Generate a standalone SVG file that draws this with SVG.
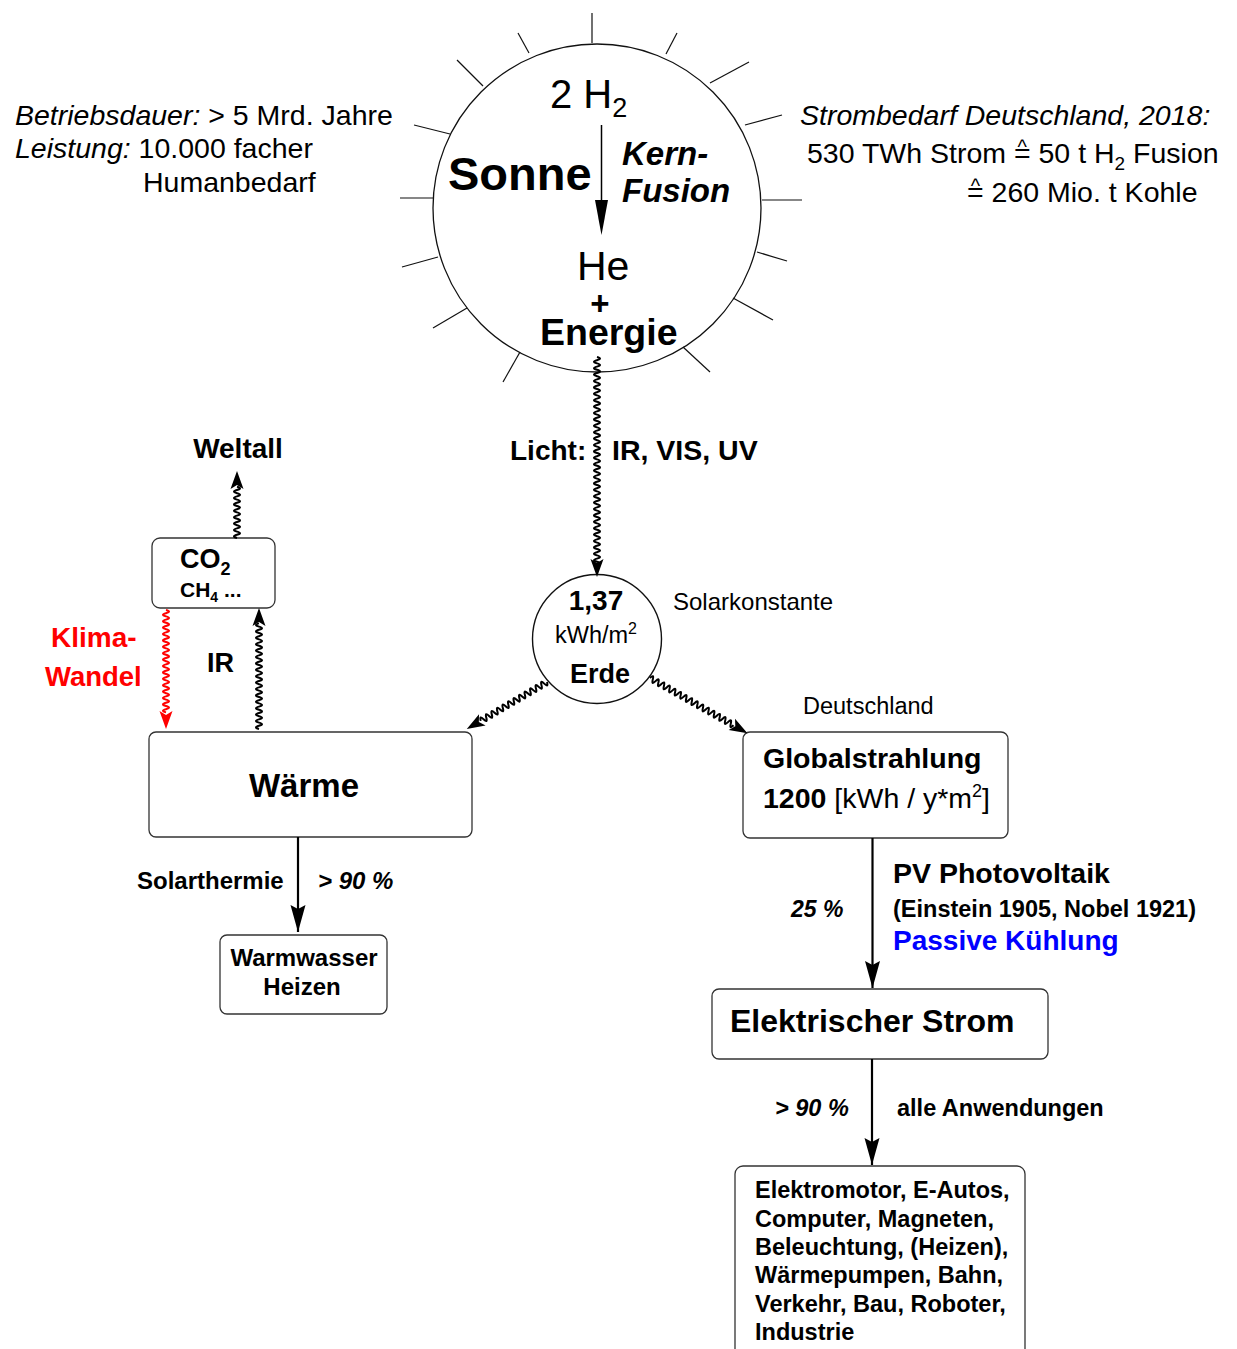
<svg xmlns="http://www.w3.org/2000/svg" width="1237" height="1349" viewBox="0 0 1237 1349">
<style>
text{font-family:"Liberation Sans",Arial,"DejaVu Sans",sans-serif;fill:#000}
.b{font-weight:bold}
.i{font-style:italic}
.box{fill:#fff;stroke:#333;stroke-width:1.3}
.ray{stroke:#111;stroke-width:1.2}
.wave{fill:none;stroke:#000;stroke-width:2}
.wr{fill:none;stroke:#ff0000;stroke-width:2}
.arr{stroke:#000;stroke-width:2.2;fill:none;marker-end:url(#ah)}
</style>
<defs>
<marker id="ah" markerUnits="userSpaceOnUse" viewBox="-28 -8 30 16" refX="0" refY="0" markerWidth="30" markerHeight="16" orient="auto">
<path d="M0,0 L-27,-7.5 L-23,0 L-27,7.5 z" fill="#000"/>
</marker>
</defs>
<rect width="1237" height="1349" fill="#fff"/>

<g id="sonne">
<circle cx="597" cy="208" r="164" fill="#fff" stroke="#111" stroke-width="1.3"/>
<line class="ray" x1="592" y1="13" x2="592" y2="43"/>
<line class="ray" x1="518" y1="33" x2="529" y2="53"/>
<line class="ray" x1="677" y1="33" x2="666" y2="54"/>
<line class="ray" x1="457" y1="60" x2="483" y2="86"/>
<line class="ray" x1="749" y1="62" x2="710" y2="83"/>
<line class="ray" x1="414" y1="125" x2="450" y2="134"/>
<line class="ray" x1="782" y1="115" x2="745" y2="125"/>
<line class="ray" x1="400" y1="198" x2="433" y2="198"/>
<line class="ray" x1="762" y1="200" x2="802" y2="200"/>
<line class="ray" x1="402" y1="267" x2="438" y2="257"/>
<line class="ray" x1="757" y1="252" x2="787" y2="261"/>
<line class="ray" x1="433" y1="328" x2="467" y2="308"/>
<line class="ray" x1="733" y1="298" x2="773" y2="320"/>
<line class="ray" x1="503" y1="382" x2="520" y2="352"/>
<line class="ray" x1="683" y1="347" x2="710" y2="372"/>
<text x="550" y="108" font-size="40">2 H<tspan font-size="27" dy="9">2</tspan></text>
<line x1="601.5" y1="125" x2="601.5" y2="205" stroke="#000" stroke-width="1.5"/>
<polygon points="595,200 608,200 601.5,235" fill="#000"/>
<text class="b" x="448" y="190" font-size="47">Sonne</text>
<text class="b i" x="622" y="165" font-size="33">Kern-</text>
<text class="b i" x="622" y="202" font-size="33">Fusion</text>
<text x="577" y="280" font-size="41">He</text>
<text class="b" x="600" y="315" font-size="33" text-anchor="middle">+</text>
<text class="b" x="540" y="345" font-size="37.5">Energie</text>
</g>

<g id="info-links">
<text x="15" y="125" font-size="28.5"><tspan class="i">Betriebsdauer:</tspan> &gt; 5 Mrd. Jahre</text>
<text x="15" y="158" font-size="28.5"><tspan class="i">Leistung:</tspan> 10.000 facher</text>
<text x="143" y="192" font-size="28.5">Humanbedarf</text>
</g>

<g id="info-rechts">
<text class="i" x="800" y="125" font-size="28.5">Strombedarf Deutschland, 2018:</text>
<text x="807" y="163" font-size="28.5">530 TWh Strom =<tspan font-size="20" dx="-13" dy="-9.5">^</tspan><tspan dx="3.6" dy="9.5"> 50 t H</tspan><tspan font-size="19" dy="7">2</tspan><tspan dy="-7"> Fusion</tspan></text>
<text x="967" y="202" font-size="28.5">=<tspan font-size="20" dx="-13" dy="-9.5">^</tspan><tspan dx="3.6" dy="9.5"> 260 Mio. t Kohle</tspan></text>
</g>

<g id="erde">
<circle cx="597" cy="639" r="64.5" fill="#fff" stroke="#111" stroke-width="1.4"/>
<text class="b" x="596" y="610" font-size="28" text-anchor="middle">1,37</text>
<text x="596" y="643" font-size="23.5" text-anchor="middle">kWh/m<tspan font-size="16" dy="-9">2</tspan></text>
<text class="b" x="600" y="683" font-size="27" text-anchor="middle">Erde</text>
</g>
<text x="673" y="610" font-size="24">Solarkonstante</text>

<g id="co2">
<rect class="box" x="152" y="538" width="123" height="70" rx="8"/>
<text class="b" x="180" y="568" font-size="27">CO<tspan font-size="18" dy="7">2</tspan></text>
<text class="b" x="180" y="597" font-size="21">CH<tspan font-size="14" dy="5">4</tspan><tspan dy="-5"> ...</tspan></text>
</g>
<text class="b" x="238" y="458" font-size="28" text-anchor="middle">Weltall</text>
<text class="b" x="207" y="672" font-size="27">IR</text>
<text class="b" x="51" y="647" font-size="28" style="fill:#ff0000">Klima-</text>
<text class="b" x="45" y="686" font-size="27.5" style="fill:#ff0000">Wandel</text>
<text class="b" x="510" y="460" font-size="28">Licht:</text>
<text class="b" x="612" y="460" font-size="28.5">IR, VIS, UV</text>

<g id="waerme">
<rect class="box" x="149" y="732" width="323" height="105" rx="7"/>
<text class="b" x="304" y="797" font-size="33" text-anchor="middle">Wärme</text>
</g>

<g id="globalstrahlung">
<rect class="box" x="743" y="732" width="265" height="106" rx="7"/>
<text class="b" x="763" y="768" font-size="28.5">Globalstrahlung</text>
<text x="763" y="808" font-size="28.5"><tspan class="b">1200</tspan> [kWh / y*m<tspan font-size="18" dy="-11">2</tspan><tspan dy="11">]</tspan></text>
</g>
<text x="803" y="714" font-size="23.5">Deutschland</text>

<g id="warmwasser">
<rect class="box" x="220" y="935" width="167" height="79" rx="7"/>
<text class="b" x="304" y="966" font-size="24" text-anchor="middle">Warmwasser</text>
<text class="b" x="302" y="995" font-size="24" text-anchor="middle">Heizen</text>
</g>
<text class="b" x="137" y="889" font-size="24">Solarthermie</text>
<text class="b i" x="318" y="889" font-size="24">&gt; 90 %</text>

<text class="b" x="893" y="883" font-size="28.5">PV Photovoltaik</text>
<text class="b" x="893" y="917" font-size="23.5">(Einstein 1905, Nobel 1921)</text>
<text class="b" x="893" y="950" font-size="28" style="fill:#0000ff">Passive Kühlung</text>
<text class="b i" x="791" y="917" font-size="23">25 %</text>

<g id="strom">
<rect class="box" x="712" y="989" width="336" height="70" rx="7"/>
<text class="b" x="730" y="1032" font-size="32">Elektrischer Strom</text>
</g>
<text class="b i" x="775" y="1116" font-size="23.5">&gt; 90 %</text>
<text class="b" x="897" y="1116" font-size="23.5">alle Anwendungen</text>

<g id="anwendungen">
<rect class="box" x="735" y="1166" width="290" height="260" rx="8"/>
<text class="b" x="755" y="1198" font-size="23.5">Elektromotor, E-Autos,</text>
<text class="b" x="755" y="1227" font-size="23.5">Computer, Magneten,</text>
<text class="b" x="755" y="1255" font-size="23.5">Beleuchtung, (Heizen),</text>
<text class="b" x="755" y="1283" font-size="23.5">Wärmepumpen, Bahn,</text>
<text class="b" x="755" y="1312" font-size="23.5">Verkehr, Bau, Roboter,</text>
<text class="b" x="755" y="1340" font-size="23.5">Industrie</text>
</g>

<g id="connectors">
<g transform="translate(597,357)">
<path class="wave" d="M0,0 q6,1.6 0,3.2 t0,3.2 0,3.2 0,3.2 0,3.2 0,3.2 0,3.2 0,3.2 0,3.2 0,3.2 0,3.2 0,3.2 0,3.2 0,3.2 0,3.2 0,3.2 0,3.2 0,3.2 0,3.2 0,3.2 0,3.2 0,3.2 0,3.2 0,3.2 0,3.2 0,3.2 0,3.2 0,3.2 0,3.2 0,3.2 0,3.2 0,3.2 0,3.2 0,3.2 0,3.2 0,3.2 0,3.2 0,3.2 0,3.2 0,3.2 0,3.2 0,3.2 0,3.2 0,3.2 0,3.2 0,3.2 0,3.2 0,3.2 0,3.2 0,3.2 0,3.2 0,3.2 0,3.2 0,3.2 0,3.2 0,3.2 0,3.2 0,3.2 0,3.2 0,3.2 0,3.2 0,3.2 0,3.2 0,3.2 0,3.2"/>
<polygon points="0,220 -6.5,202 0,206 6.5,202" fill="#000"/>
</g>
<g transform="translate(547,682) rotate(59.6)">
<path class="wave" d="M0,0 q6,1.6 0,3.2 t0,3.2 0,3.2 0,3.2 0,3.2 0,3.2 0,3.2 0,3.2 0,3.2 0,3.2 0,3.2 0,3.2 0,3.2 0,3.2 0,3.2 0,3.2 0,3.2 0,3.2 0,3.2 0,3.2 0,3.2 0,3.2 0,3.2 0,3.2"/>
<polygon points="0,93 -6.5,75 0,79 6.5,75" fill="#000"/>
</g>
<g transform="translate(650,678) rotate(-60.5)">
<path class="wave" d="M0,0 q6,1.6 0,3.2 t0,3.2 0,3.2 0,3.2 0,3.2 0,3.2 0,3.2 0,3.2 0,3.2 0,3.2 0,3.2 0,3.2 0,3.2 0,3.2 0,3.2 0,3.2 0,3.2 0,3.2 0,3.2 0,3.2 0,3.2 0,3.2 0,3.2 0,3.2 0,3.2 0,3.2 0,3.2 0,3.2 0,3.2 0,3.2"/>
<polygon points="0,112 -6.5,94 0,98 6.5,94" fill="#000"/>
</g>
<g transform="translate(259,729) rotate(180)">
<path class="wave" d="M0,0 q6,1.6 0,3.2 t0,3.2 0,3.2 0,3.2 0,3.2 0,3.2 0,3.2 0,3.2 0,3.2 0,3.2 0,3.2 0,3.2 0,3.2 0,3.2 0,3.2 0,3.2 0,3.2 0,3.2 0,3.2 0,3.2 0,3.2 0,3.2 0,3.2 0,3.2 0,3.2 0,3.2 0,3.2 0,3.2 0,3.2 0,3.2 0,3.2 0,3.2 0,3.2"/>
<polygon points="0,121 -6.5,103 0,107 6.5,103" fill="#000"/>
</g>
<g transform="translate(237,538) rotate(180)">
<path class="wave" d="M0,0 q6,1.6 0,3.2 t0,3.2 0,3.2 0,3.2 0,3.2 0,3.2 0,3.2 0,3.2 0,3.2 0,3.2 0,3.2 0,3.2 0,3.2 0,3.2 0,3.2 0,3.2"/>
<polygon points="0,67 -6.5,49 0,53 6.5,49" fill="#000"/>
</g>
<g transform="translate(166,610)">
<path class="wr" d="M0,0 q6,1.6 0,3.2 t0,3.2 0,3.2 0,3.2 0,3.2 0,3.2 0,3.2 0,3.2 0,3.2 0,3.2 0,3.2 0,3.2 0,3.2 0,3.2 0,3.2 0,3.2 0,3.2 0,3.2 0,3.2 0,3.2 0,3.2 0,3.2 0,3.2 0,3.2 0,3.2 0,3.2 0,3.2 0,3.2 0,3.2 0,3.2 0,3.2 0,3.2"/>
<polygon points="0,119 -6.5,101 0,105 6.5,101" fill="#ff0000"/>
</g>
<path class="arr" d="M298,837 V932"/>
<path class="arr" d="M872.5,838 V988"/>
<path class="arr" d="M872,1059 V1165"/>
</g>
</svg>
